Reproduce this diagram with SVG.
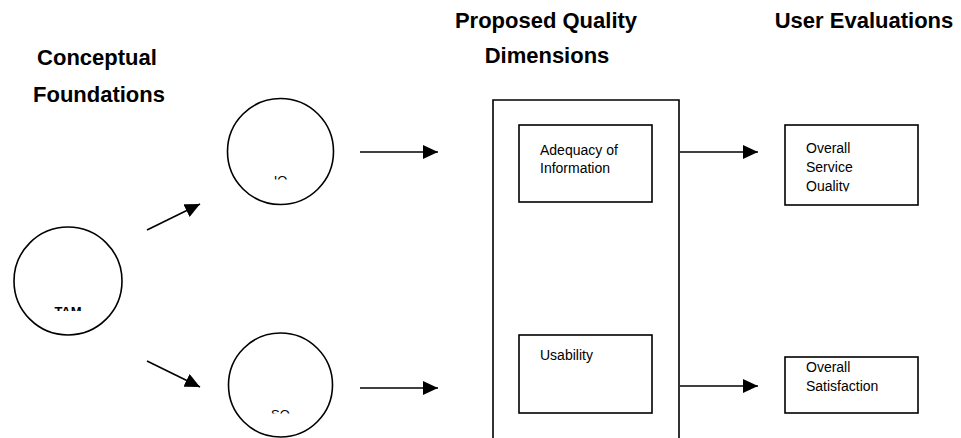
<svg xmlns="http://www.w3.org/2000/svg" width="961" height="438" viewBox="0 0 961 438">
<style>
.h{font-family:"Liberation Sans",Arial,sans-serif;font-weight:bold;font-size:22px;fill:#000;text-anchor:middle}
.t{font-family:"Liberation Sans",Arial,sans-serif;font-size:14px;fill:#000}
.c{font-family:"Liberation Sans",Arial,sans-serif;font-size:13px;fill:#000;text-anchor:middle}
.s{fill:#fff;stroke:#000;stroke-width:1.6}
.e{stroke:#000;stroke-width:1.6;fill:none;marker-end:url(#ah)}
</style>
<defs>
<marker id="ah" markerUnits="userSpaceOnUse" markerWidth="16" markerHeight="14" refX="15" refY="7" orient="auto"><path d="M0,0 L15,7 L0,14 z" fill="#000"/></marker>
<clipPath id="cTam"><rect x="0" y="0" width="200" height="311"/></clipPath>
<clipPath id="cIo"><rect x="200" y="0" width="200" height="179.5"/></clipPath>
<clipPath id="cSo"><rect x="200" y="300" width="200" height="113.5"/></clipPath>
<clipPath id="cQ"><rect x="780" y="100" width="150" height="91.5"/></clipPath>
</defs>
<rect width="961" height="438" fill="#fff"/>
<g id="headings">
<text class="h" x="97" y="65">Conceptual</text>
<text class="h" x="99" y="102">Foundations</text>
<text class="h" x="546" y="28">Proposed Quality</text>
<text class="h" x="547" y="63">Dimensions</text>
<text class="h" x="864" y="28">User Evaluations</text>
</g>
<g id="connectors">
<line class="e" x1="147" y1="230" x2="200" y2="204"/>
<line class="e" x1="147" y1="361" x2="200" y2="387"/>
<line class="e" x1="360" y1="152" x2="438" y2="152"/>
<line class="e" x1="360" y1="388" x2="438" y2="388"/>
<line class="e" x1="680" y1="152" x2="758" y2="152"/>
<line class="e" x1="680" y1="386" x2="758" y2="386"/>
</g>
<g id="tam">
<circle class="s" cx="68" cy="281" r="54"/>
<text class="c" x="68" y="316" font-weight="bold" font-size="14" clip-path="url(#cTam)">TAM</text>
</g>
<g id="io">
<circle class="s" cx="280.5" cy="151.5" r="53"/>
<text class="c" x="280.5" y="184.5" clip-path="url(#cIo)">IO</text>
</g>
<g id="so">
<circle class="s" cx="280.5" cy="385" r="52"/>
<text class="c" x="280.5" y="418.5" clip-path="url(#cSo)">SO</text>
</g>
<g id="dimensions">
<path d="M493,440 V100 H679 V440" fill="none" stroke="#000" stroke-width="1.6"/>
</g>
<g id="adequacy">
<rect class="s" x="519" y="125" width="133" height="77"/>
<text class="t" x="540" y="154.5">Adequacy of</text>
<text class="t" x="540" y="172.5">Information</text>
</g>
<g id="usability">
<rect class="s" x="519" y="335" width="133" height="78"/>
<text class="t" x="540" y="360">Usability</text>
</g>
<g id="service-quality">
<rect class="s" x="785" y="125" width="133" height="80"/>
<g clip-path="url(#cQ)">
<text class="t" x="806" y="153">Overall</text>
<text class="t" x="806" y="172">Service</text>
<text class="t" x="806" y="191">Quality</text>
</g>
</g>
<g id="satisfaction">
<rect class="s" x="785" y="357" width="133" height="56"/>
<text class="t" x="806" y="372">Overall</text>
<text class="t" x="806" y="391">Satisfaction</text>
</g>
</svg>
